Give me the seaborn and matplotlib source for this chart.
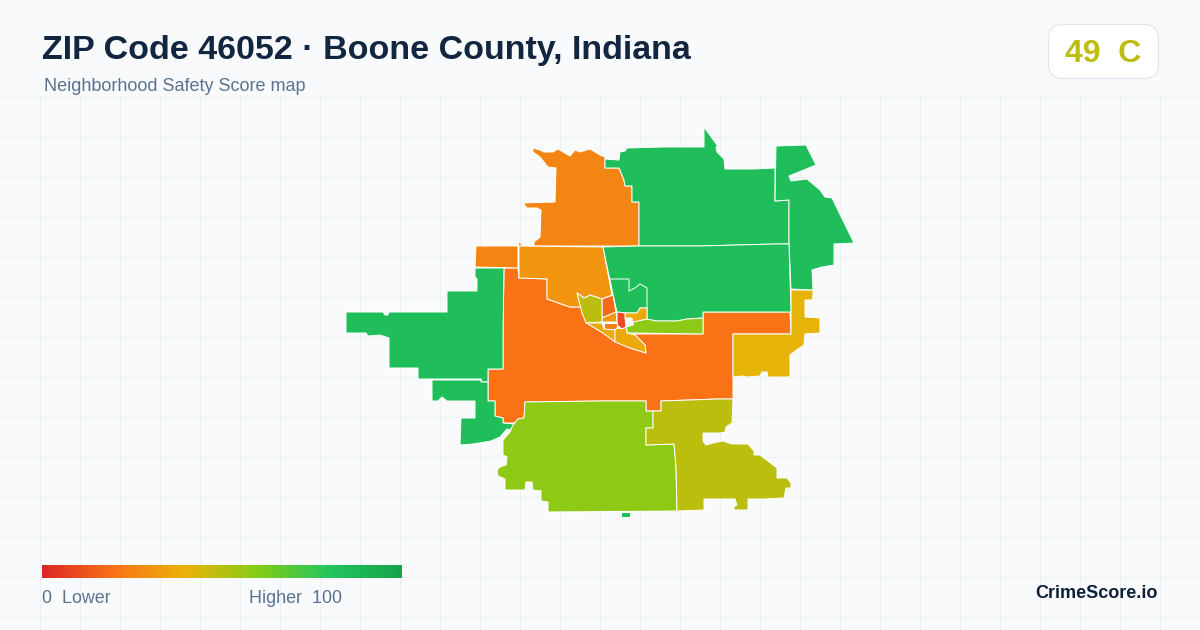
import numpy as np
import matplotlib
matplotlib.use("Agg")
import matplotlib.pyplot as plt
import seaborn as sns
from matplotlib.collections import PolyCollection
from matplotlib.colors import LinearSegmentedColormap, Normalize
from matplotlib.patches import FancyBboxPatch

TITLE = "ZIP Code 46052 · Boone County, Indiana"
SUBTITLE = "Neighborhood Safety Score map"
OVERALL = "49  C"
BRAND = "CrimeScore.io"
LOW_LABEL = "0  Lower"
HIGH_LABEL = "Higher  100"

# gradient stops of the score scale
STOP_POS = [0, .2, .4, .6, .8, 1]
STOP_COL = ["#dc2626", "#f97316", "#eab308", "#84cc16", "#22c55e", "#16a34a"]

# tract outlines (projected map coordinates) and scores
big_orange = [(504,268),(518,268),(519,278),(547,279),(547,299),(570,307),(581,307),(582,313),(590,325),(603,333),(615,341),(630,348),(646,353),(645,345),(635,335),(627,334),(703,334),(703,312),(770,312),(790,312),(791,334),(733,334),(733,399),(718,399),(661,401),(661,411),(646,411),(646,401),(618,401),(600,401),(525,402),(524,418),(518,419),(515,423),(503,423),(503,418),(495,416),(495,401),(488,401),(488,369),(503,369),(503,333)]
nw_orange = [(533,148),(540,150),(544,152),(553,152),(558,149),(570,156),(575,150),(580,152),(590,149),(600,155),(605,157),(605,168),(619,168),(624,180),(625,186),(632,186),(632,202),(639,202),(639,246),(534,246),(523,245),(519,242),(518,246),(534,245),(534,242),(540,237),(541,210),(537,208),(527,208),(523,203),(555,202),(556,168),(548,167),(540,157),(533,152)]
w_orange = [(476,246),(518,246),(518,268),(475,267)]
amber_n = [(519,246),(603,247),(612,295),(602,299),(590,295),(584,298),(577,293),(581,307),(570,307),(547,299),(547,279),(519,278)]
w_green = [(475,268),(504,268),(503,333),(503,369),(488,369),(488,382),(482,382),(481,379),(447,379),(433,379),(418,379),(418,368),(389,368),(389,338),(380,335),(368,336),(366,333),(346,333),(346,312),(383,312),(385,315),(388,315),(389,312),(447,312),(447,291),(477,291),(477,279),(475,277)]
sw_green = [(432,380),(481,380),(481,382),(488,382),(488,401),(495,401),(495,416),(503,418),(503,423),(515,424),(510,430),(507,429),(500,437),(491,441),(473,444),(460,445),(461,418),(475,418),(475,401),(447,401),(442,397),(438,401),(432,401)]
s_lime = [(525,402),(600,401),(618,401),(646,401),(646,411),(653,411),(653,428),(646,428),(646,445),(674,444),(676,467),(677,511),(548,512),(548,502),(541,501),(541,491),(533,490),(532,482),(526,482),(525,490),(505,490),(505,479),(498,476),(497,470),(500,467),(506,465),(507,457),(503,455),(503,440),(510,432),(513,425),(518,419),(524,418)]
se_olive = [(661,401),(718,399),(733,399),(732,423),(726,427),(725,432),(721,433),(703,433),(703,441),(706,445),(713,443),(723,441),(732,444),(748,444),(754,451),(754,455),(760,455),(777,468),(777,478),(787,478),(791,483),(791,488),(786,488),(784,498),(765,499),(748,499),(748,510),(734,510),(734,507),(737,505),(735,499),(704,499),(704,510),(677,511),(676,467),(674,444),(646,445),(646,428),(653,428),(653,411),(661,411)]
speck_green = [(621,512),(630,512),(630,517),(621,517)]
e_gold = [(733,334),(791,334),(791,290),(813,290),(813,295),(812,300),(805,300),(805,317),(820,318),(820,333),(805,334),(804,345),(798,349),(790,355),(790,377),(768,377),(767,372),(762,372),(760,376),(747,377),(743,376),(733,377)]
n_green = [(605,159),(619,160),(620,152),(625,151),(627,148),(663,147),(704,147),(704,127),(717,145),(719,146),(716,147),(717,152),(724,159),(725,169),(753,169),(775,168),(775,201),(789,200),(789,244),(775,244),(700,246),(639,246),(639,202),(632,202),(632,186),(625,186),(624,180),(619,168),(605,168)]
ne_green = [(776,146),(806,145),(816,165),(789,176),(791,181),(807,179),(820,190),(825,197),(832,198),(854,243),(834,244),(834,265),(822,267),(812,270),(813,290),(791,289),(789,244),(789,200),(775,201)]
c_green = [(603,247),(639,246),(700,246),(775,244),(789,244),(791,312),(770,312),(703,312),(703,318),(687,319),(677,321),(656,321),(647,319),(647,308),(640,308),(637,313),(625,313),(617,312),(613,295)]
inner_green = [(610,279),(629,279),(629,291),(635,288),(640,284),(647,288),(647,308),(640,308),(637,313),(625,313),(617,312),(613,295)]
strip_lime = [(703,318),(687,319),(677,321),(656,321),(647,319),(633,322),(633,325),(626,327),(627,330),(627,333),(633,333),(703,334)]
core_gold = [(625,313),(637,313),(640,308),(647,308),(647,319),(633,322),(633,325),(632,318),(625,318)]
core_red = [(617,312),(625,313),(625,318),(626,327),(622,329),(617,325)]
core_upper = [(602,299),(613,295),(616,312),(602,318)]
core_row = [(602,318),(616,312),(617,322),(602,322)]
core_small = [(604,323),(617,323),(617,329),(604,329)]
w_olive = [(577,293),(584,298),(590,295),(602,299),(602,322),(586,323),(582,313)]
sw_amber = [(586,323),(602,323),(604,329),(615,330),(615,342),(603,333),(590,325)]
s_amber = [(617,328),(622,329),(626,327),(627,333),(635,335),(645,345),(646,353),(630,348),(615,342),(615,330)]

TRACTS = [big_orange, nw_orange, w_orange, amber_n, w_green, sw_green, s_lime, se_olive,
          speck_green, e_gold, n_green, ne_green, c_green, inner_green, strip_lime, core_gold,
          core_red, core_upper, core_row, core_small, w_olive, sw_amber, s_amber]
SCORES = [20, 25.5, 25.5, 31, 84, 84, 58, 49, 84, 41, 84, 84, 84, 84, 58, 37, 10, 18, 32, 24, 49, 37, 37]

BG = "#f8fafc"
sns.set_theme(style="whitegrid", rc={
    "figure.facecolor": BG, "axes.facecolor": BG, "grid.color": "#e9f1f5",
    "grid.linewidth": 0.8, "axes.spines.left": False, "axes.spines.right": False,
    "axes.spines.top": False, "axes.spines.bottom": False,
})
plt.rcParams["font.family"] = ["Liberation Sans", "DejaVu Sans"]

cmap = LinearSegmentedColormap.from_list("score", list(zip(STOP_POS, STOP_COL)))
norm = Normalize(0, 100)

fig = plt.figure(figsize=(12, 6.3), dpi=100)
TOP = 96
ax = fig.add_axes([0, 0, 1, (630 - TOP) / 630])
ax.set_xlim(0, 1200)
ax.set_ylim(630, TOP)
ax.set_xticks(np.arange(40, 1200, 40))
ax.set_yticks(np.arange(96.5, 630, 40))
ax.tick_params(length=0, labelbottom=False, labelleft=False)
ax.set_axisbelow(True)

coll = PolyCollection([np.array(t) for t in TRACTS], array=np.array(SCORES), cmap=cmap, norm=norm,
                      edgecolors="white", linewidths=0.7, zorder=3)
ax.add_collection(coll)

# header and footer text
ax.text(42, 59, TITLE, fontsize=24.5, fontweight="bold", color="#12263f", clip_on=False, va="baseline")
ax.text(44, 91, SUBTITLE, fontsize=12.95, color="#5b728f", clip_on=False, va="baseline")
badge = FancyBboxPatch((1048.5, 24.5), 110, 54, boxstyle="round,pad=0,rounding_size=14",
                       facecolor="white", edgecolor="#dfe5ee", linewidth=0.8, clip_on=False, zorder=4)
ax.add_patch(badge)
ax.text(1103, 62, OVERALL, fontsize=23, fontweight="bold", color=cmap(norm(49)), ha="center",
        va="baseline", clip_on=False, zorder=5)
ax.text(1158, 598, BRAND, fontsize=13, fontweight="bold", color="#0f2038", ha="right", va="baseline", clip_on=False, zorder=5)
ax.text(42, 603, LOW_LABEL, fontsize=12.9, color="#5b728f", va="baseline", clip_on=False, zorder=5)
ax.text(249, 603, HIGH_LABEL, fontsize=12.9, color="#5b728f", va="baseline", clip_on=False, zorder=5)

# colour scale bar
lax = fig.add_axes([42 / 1200, 1 - 578 / 630, 360 / 1200, 13 / 630])
sns.heatmap(np.linspace(0, 100, 360)[np.newaxis, :], ax=lax, cmap=cmap, norm=norm, cbar=False,
            xticklabels=False, yticklabels=False, rasterized=True)
lax.set_xlabel(""); lax.set_ylabel("")

fig.savefig("out.png", dpi=100, facecolor=BG)
